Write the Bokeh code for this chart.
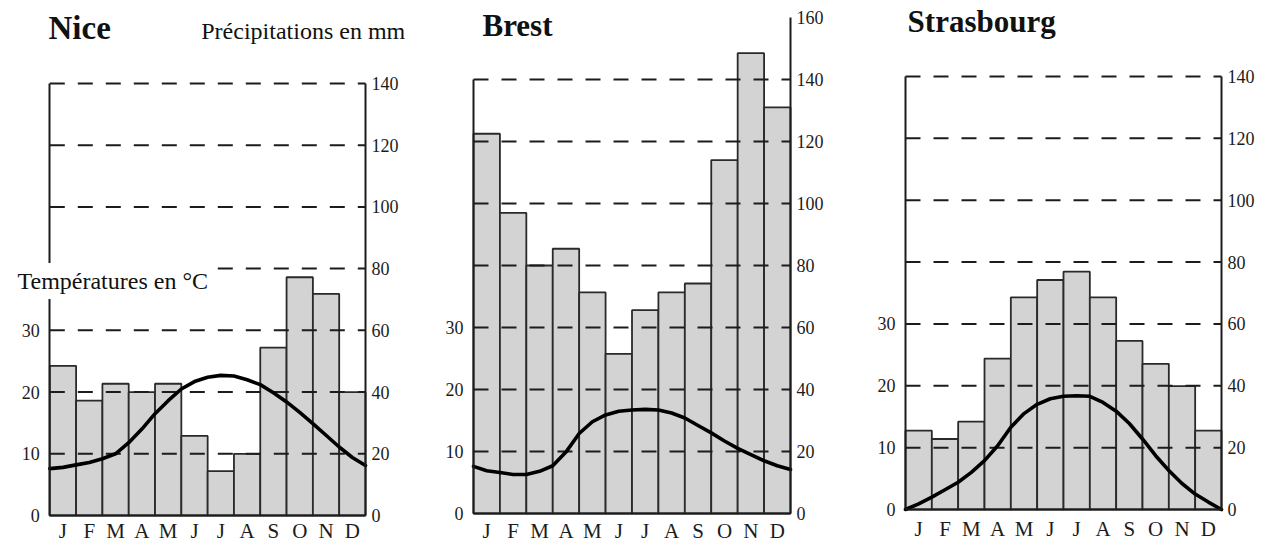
from bokeh.plotting import figure
from bokeh.models import Range1d, FixedTicker, Label, LinearAxis
from bokeh.layouts import row
from bokeh.embed import file_html
from bokeh.resources import INLINE

# ---------------- data ----------------
months = ["J", "F", "M", "A", "M", "J", "J", "A", "S", "O", "N", "D"]
month_pos = [i + 0.5 for i in range(12)]          # bar centres (month index)
curve_pos = [i / 2 for i in range(25)]            # temperature read every half month

temp_ticks = [0, 10, 20, 30]
precip_ticks = [0, 20, 40, 60, 80, 100, 120, 140]
precip_ticks_brest = [0, 20, 40, 60, 80, 100, 120, 140, 160]
grid_ticks = [20, 40, 60, 80, 100, 120, 140]

nice_precip = [48.5, 37.2, 42.7, 40.0, 42.7, 25.8, 14.4, 20.0, 54.4, 77.2, 71.8, 40.0]
nice_temp = [7.6, 7.8, 8.2, 8.6, 9.2, 10.0, 11.8, 14.0, 16.5, 18.6, 20.5, 21.7, 22.4,
             22.7, 22.6, 22.0, 21.2, 19.9, 18.4, 16.7, 14.9, 13.0, 11.1, 9.4, 8.1]

brest_precip = [122.5, 97.0, 80.0, 85.4, 71.3, 51.5, 65.6, 71.3, 74.2, 114.0, 148.5, 131.0]
brest_temp = [7.6, 6.9, 6.6, 6.3, 6.3, 6.8, 7.7, 9.9, 12.9, 14.8, 15.9, 16.5, 16.7,
              16.8, 16.7, 16.2, 15.4, 14.2, 13.0, 11.7, 10.5, 9.5, 8.5, 7.7, 7.1]

stras_precip = [25.5, 22.8, 28.4, 48.8, 68.6, 74.2, 76.9, 68.6, 54.5, 47.1, 39.9, 25.5]
stras_temp = [0.0, 0.9, 2.0, 3.2, 4.4, 6.0, 7.9, 10.3, 13.3, 15.5, 17.0, 17.9, 18.3,
              18.4, 18.3, 17.3, 15.9, 13.9, 11.4, 8.7, 6.3, 4.2, 2.5, 1.2, 0.0]

# ---------------- style ----------------
FONT = "Liberation Serif"
INK = "#1c1c1c"
BAR_FILL = "#d3d3d3"
FIG_H = 544


def style_axis(ax, standoff, size="18px"):
    ax.axis_line_color = INK
    ax.axis_line_width = 2
    ax.major_tick_line_color = None
    ax.minor_tick_line_color = None
    ax.major_tick_out = 0
    ax.major_tick_in = 0
    ax.minor_tick_out = 0
    ax.minor_tick_in = 0
    ax.major_label_text_font = FONT
    ax.major_label_text_font_size = size
    ax.major_label_text_color = INK
    ax.major_label_standoff = standoff


def panel(title, precip, temp, fig_x, width, left_px, right_px, base_px, px_per_mm,
          rticks, rbound, x_standoff, title_x, title_y, title_size):
    # map the figure's canvas onto data space so the chart box lands where wanted
    px_per_month = (right_px - left_px) / 12.0
    x0 = (fig_x - left_px) / px_per_month
    x1 = (fig_x + width - left_px) / px_per_month
    y0 = (base_px - FIG_H) / px_per_mm
    y1 = base_px / px_per_mm

    p = figure(width=width, height=FIG_H, x_range=Range1d(x0, x1),
               y_range=Range1d(y0, y1), y_axis_location="right",
               output_backend="svg", toolbar_location=None, min_border=0,
               background_fill_color="white", border_fill_color="white",
               outline_line_color=None)
    p.extra_y_ranges = {"temp": Range1d(y0 / 2, y1 / 2)}
    p.xgrid.visible = False
    p.ygrid.visible = False

    p.vbar(x=month_pos, top=precip, bottom=0, width=1, fill_color=BAR_FILL,
           line_color="#2a2a2a", line_width=1.8)
    # dashed horizontal guide lines across the chart box
    p.segment(x0=[0] * len(grid_ticks), x1=[12] * len(grid_ticks),
              y0=grid_ticks, y1=grid_ticks, line_color=INK, line_width=2,
              line_dash="15 13")
    p.line(x=curve_pos, y=temp, y_range_name="temp", line_color="black",
           line_width=3.6, line_join="round", line_cap="round")

    ra = p.yaxis[0]
    ra.ticker = FixedTicker(ticks=rticks)
    ra.bounds = (0, rbound)
    ra.fixed_location = 12
    style_axis(ra, 6)

    la = LinearAxis(y_range_name="temp", ticker=FixedTicker(ticks=temp_ticks),
                    bounds=(0, 70), fixed_location=0)
    style_axis(la, 10)
    p.add_layout(la, "left")

    xa = p.xaxis[0]
    xa.ticker = FixedTicker(ticks=month_pos)
    xa.major_label_overrides = dict(zip(month_pos, months))
    xa.bounds = (0, 12)
    xa.fixed_location = 0
    style_axis(xa, x_standoff, "21px")

    p.add_layout(Label(x=title_x, y=title_y, text=title, text_font=FONT,
                       text_font_size=title_size, text_font_style="bold",
                       text_color="#111111", text_baseline="alphabetic"))
    return p


p1 = panel("Nice", nice_precip, nice_temp, 0, 425, 49.3, 365.0, 515.0, 3.086,
           precip_ticks, 140, 3, -0.05, 158.1, "33px")
p1.add_layout(Label(x=13.51, y=157.0, text="Précipitations en mm", text_font=FONT,
                    text_font_size="24px", text_color="#111111",
                    text_align="right", text_baseline="alphabetic"))
p1.add_layout(Label(x=-1.417, y=76.0, text="Températures en °C", text_font=FONT,
                    text_font_size="24px", text_color="#111111",
                    text_baseline="alphabetic", background_fill_color="white",
                    padding=5))

p2 = panel("Brest", brest_precip, brest_temp, 425, 435, 473.0, 790.0, 513.0, 3.1,
           precip_ticks_brest, 160, 5, 0.34, 157.4, "31px")

p3 = panel("Strasbourg", stras_precip, stras_temp, 860, 402, 905.0, 1221.0, 509.0,
           3.093, precip_ticks, 140, 7, 0.08, 157.8, "31px")

layout = row(p1, p2, p3)
open("out.html", "w").write(file_html(layout, INLINE))
